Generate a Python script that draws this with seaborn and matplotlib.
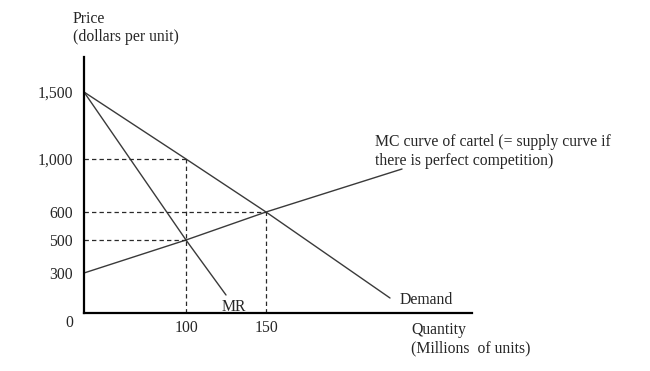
import matplotlib
matplotlib.use("Agg")
import matplotlib.pyplot as plt
import seaborn as sns
import pandas as pd

# Schematic diagram: tick values and their (non-linear) positions on the drawing
q_ticks = [100, 150]
q_pos = [102, 182]
p_ticks = ["1,500", "1,000", "600", "500", "300"]
p_pos = [221, 154, 101, 73, 40]

# Curves (in drawing coordinates)
demand_x = [0, 102, 182, 306]
demand_y = [221, 154, 101, 15]
mr_x = [0, 102, 142]
mr_y = [221, 73, 18]
mc_x = [0, 102, 182, 318]
mc_y = [40, 73, 101, 144]

sns.set_style("white")
plt.rcParams['font.family'] = ['Liberation Serif', 'DejaVu Serif']

W, H = 650, 371
fig = plt.figure(figsize=(6.5, 3.71), dpi=100)
ox, oy = 84, 313
xmax, ymax = 388, 256
ax = fig.add_axes([ox / W, (H - oy) / H, xmax / W, ymax / H])
ax.set_xlim(0, xmax)
ax.set_ylim(0, ymax)

fs = 11.3
line_col = "#3a3a3a"

df = pd.concat([
    pd.DataFrame({"x": demand_x, "y": demand_y, "curve": "Demand"}),
    pd.DataFrame({"x": mr_x, "y": mr_y, "curve": "MR"}),
    pd.DataFrame({"x": mc_x, "y": mc_y, "curve": "MC"}),
])
sns.lineplot(data=df, x="x", y="y", units="curve", estimator=None, sort=False,
             color=line_col, lw=1.0, ax=ax, clip_on=False)

# dashed guides
dash_kw = dict(color="#2a2a2a", lw=0.9, ls=(0, (3.5, 2.5)))
ax.plot([0, q_pos[0]], [p_pos[1], p_pos[1]], **dash_kw)
ax.plot([0, q_pos[1]], [p_pos[2], p_pos[2]], **dash_kw)
ax.plot([0, q_pos[0]], [p_pos[3], p_pos[3]], **dash_kw)
ax.plot([q_pos[0], q_pos[0]], [0, p_pos[1]], **dash_kw)
ax.plot([q_pos[1], q_pos[1]], [0, p_pos[2]], **dash_kw)

# axes
for s in ["top", "right"]:
    ax.spines[s].set_visible(False)
for s in ["left", "bottom"]:
    ax.spines[s].set_color("black")
    ax.spines[s].set_linewidth(1.6)
ax.set_xlabel("")
ax.set_ylabel("")
ax.set_xticks(q_pos)
ax.set_xticklabels([str(v) for v in q_ticks], fontsize=fs)
ax.set_yticks(p_pos)
ax.set_yticklabels(p_ticks, fontsize=fs)
ax.tick_params(axis="both", length=0)
ax.tick_params(axis="y", pad=8)
ax.tick_params(axis="x", pad=5)

ax.text(-15, -10, "0", fontsize=fs, ha="center", va="center", clip_on=False)
ax.text(-11, 285, "Price\n(dollars per unit)", fontsize=fs, ha="left", va="center",
        linespacing=1.2, clip_on=False)
ax.text(327, -26, "Quantity\n(Millions  of units)", fontsize=fs, ha="left", va="center",
        linespacing=1.2, clip_on=False)
ax.text(291, 161, "MC curve of cartel (= supply curve if\nthere is perfect competition)",
        fontsize=fs, ha="left", va="center", linespacing=1.25, clip_on=False)
ax.text(316, 13, "Demand", fontsize=fs, ha="left", va="center", clip_on=False)
ax.text(138, 6, "MR", fontsize=fs, ha="left", va="center", clip_on=False)

fig.savefig("out.png", dpi=100)
